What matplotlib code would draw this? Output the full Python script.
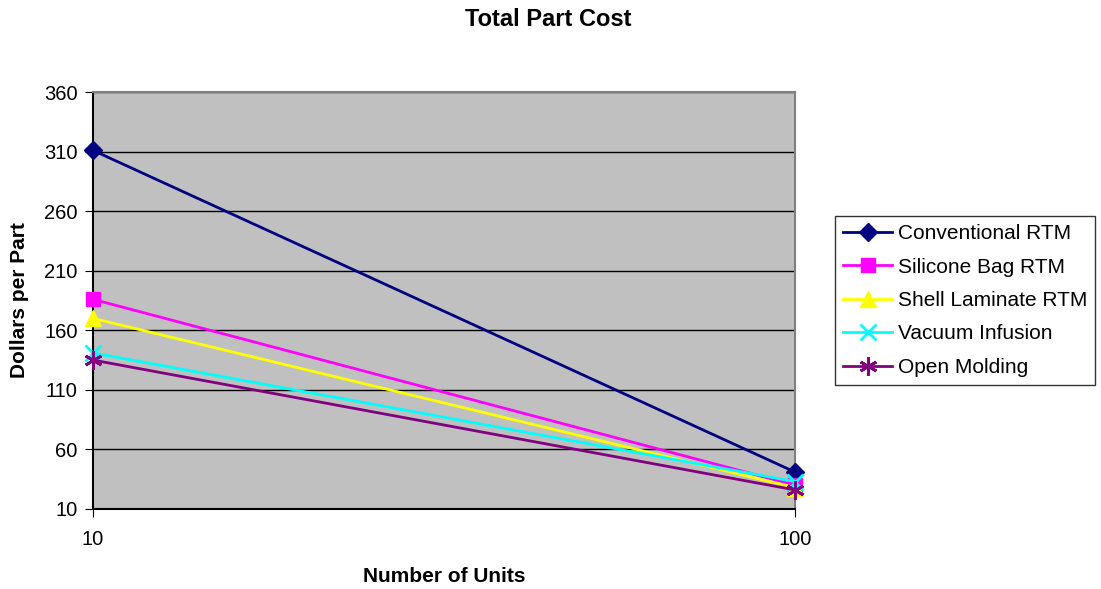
import matplotlib
matplotlib.use("Agg")
import matplotlib.pyplot as plt

plt.rcParams['font.family'] = ['Liberation Sans', 'DejaVu Sans']

categories = ["10", "100"]
conventional_rtm = [311, 41]
silicone_bag_rtm = [186, 30]
shell_laminate_rtm = [170, 28]
vacuum_infusion = [141, 33]
open_molding = [135, 26]

series = [
    ("Conventional RTM", conventional_rtm, "#000080", "D", 9),
    ("Silicone Bag RTM", silicone_bag_rtm, "#FF00FF", "s", 10),
    ("Shell Laminate RTM", shell_laminate_rtm, "#FFFF00", "^", 11),
    ("Vacuum Infusion", vacuum_infusion, "#00FFFF", "x", 11),
    ("Open Molding", open_molding, "#800080", (6, 2, 0), 13),
]

W, H = 1101, 589
fig = plt.figure(figsize=(W / 100, H / 100), dpi=100)
L, R, T, B = 93, 795, 92, 509
ax = fig.add_axes([L / W, 1 - B / H, (R - L) / W, (B - T) / H])
ax.set_facecolor("#C0C0C0")

x = list(range(len(categories)))
for name, vals, col, mk, ms in series:
    ax.plot(x, vals, color=col, lw=2, marker=mk, markersize=ms,
            markeredgewidth=2 if mk in ("x", (6, 2, 0)) else 1,
            markeredgecolor=col, markerfacecolor=col, label=name,
            clip_on=False, zorder=3)

ax.set_xlim(0, 1)
ax.set_ylim(10, 360)
ax.set_yticks(range(10, 361, 50))
ax.set_xticks(x)
ax.set_xticklabels(categories)
ax.yaxis.grid(True, color="black", lw=1)
ax.set_axisbelow(True)
for s in ax.spines.values():
    s.set_color("#808080")
    s.set_linewidth(1.5)
ax.spines['left'].set_color("black")
ax.spines['bottom'].set_color("black")
ax.tick_params(axis="both", labelsize=14.5, length=6, direction="out", color="black")
ax.tick_params(axis="x", pad=9)
ax.tick_params(axis="y", pad=5)

fig.text(548 / W, 1 - 19 / H, "Total Part Cost", ha="center", va="center",
         fontsize=17, fontweight="bold")
fig.text(444 / W, 1 - 577 / H, "Number of Units", ha="center", va="center",
         fontsize=15, fontweight="bold")
fig.text(20 / W, 1 - 300 / H, "Dollars per Part", ha="center", va="center",
         rotation=90, fontsize=15, fontweight="bold")

leg = fig.legend(loc="upper left", bbox_to_anchor=(835 / W, 1 - 216 / H),
                 fontsize=15, frameon=True, fancybox=False, edgecolor="black",
                 handlelength=2.35, handletextpad=0.25, labelspacing=0.69,
                 borderpad=0.4, borderaxespad=0)
leg.get_frame().set_linewidth(1)

fig.savefig("out.png", dpi=100)
